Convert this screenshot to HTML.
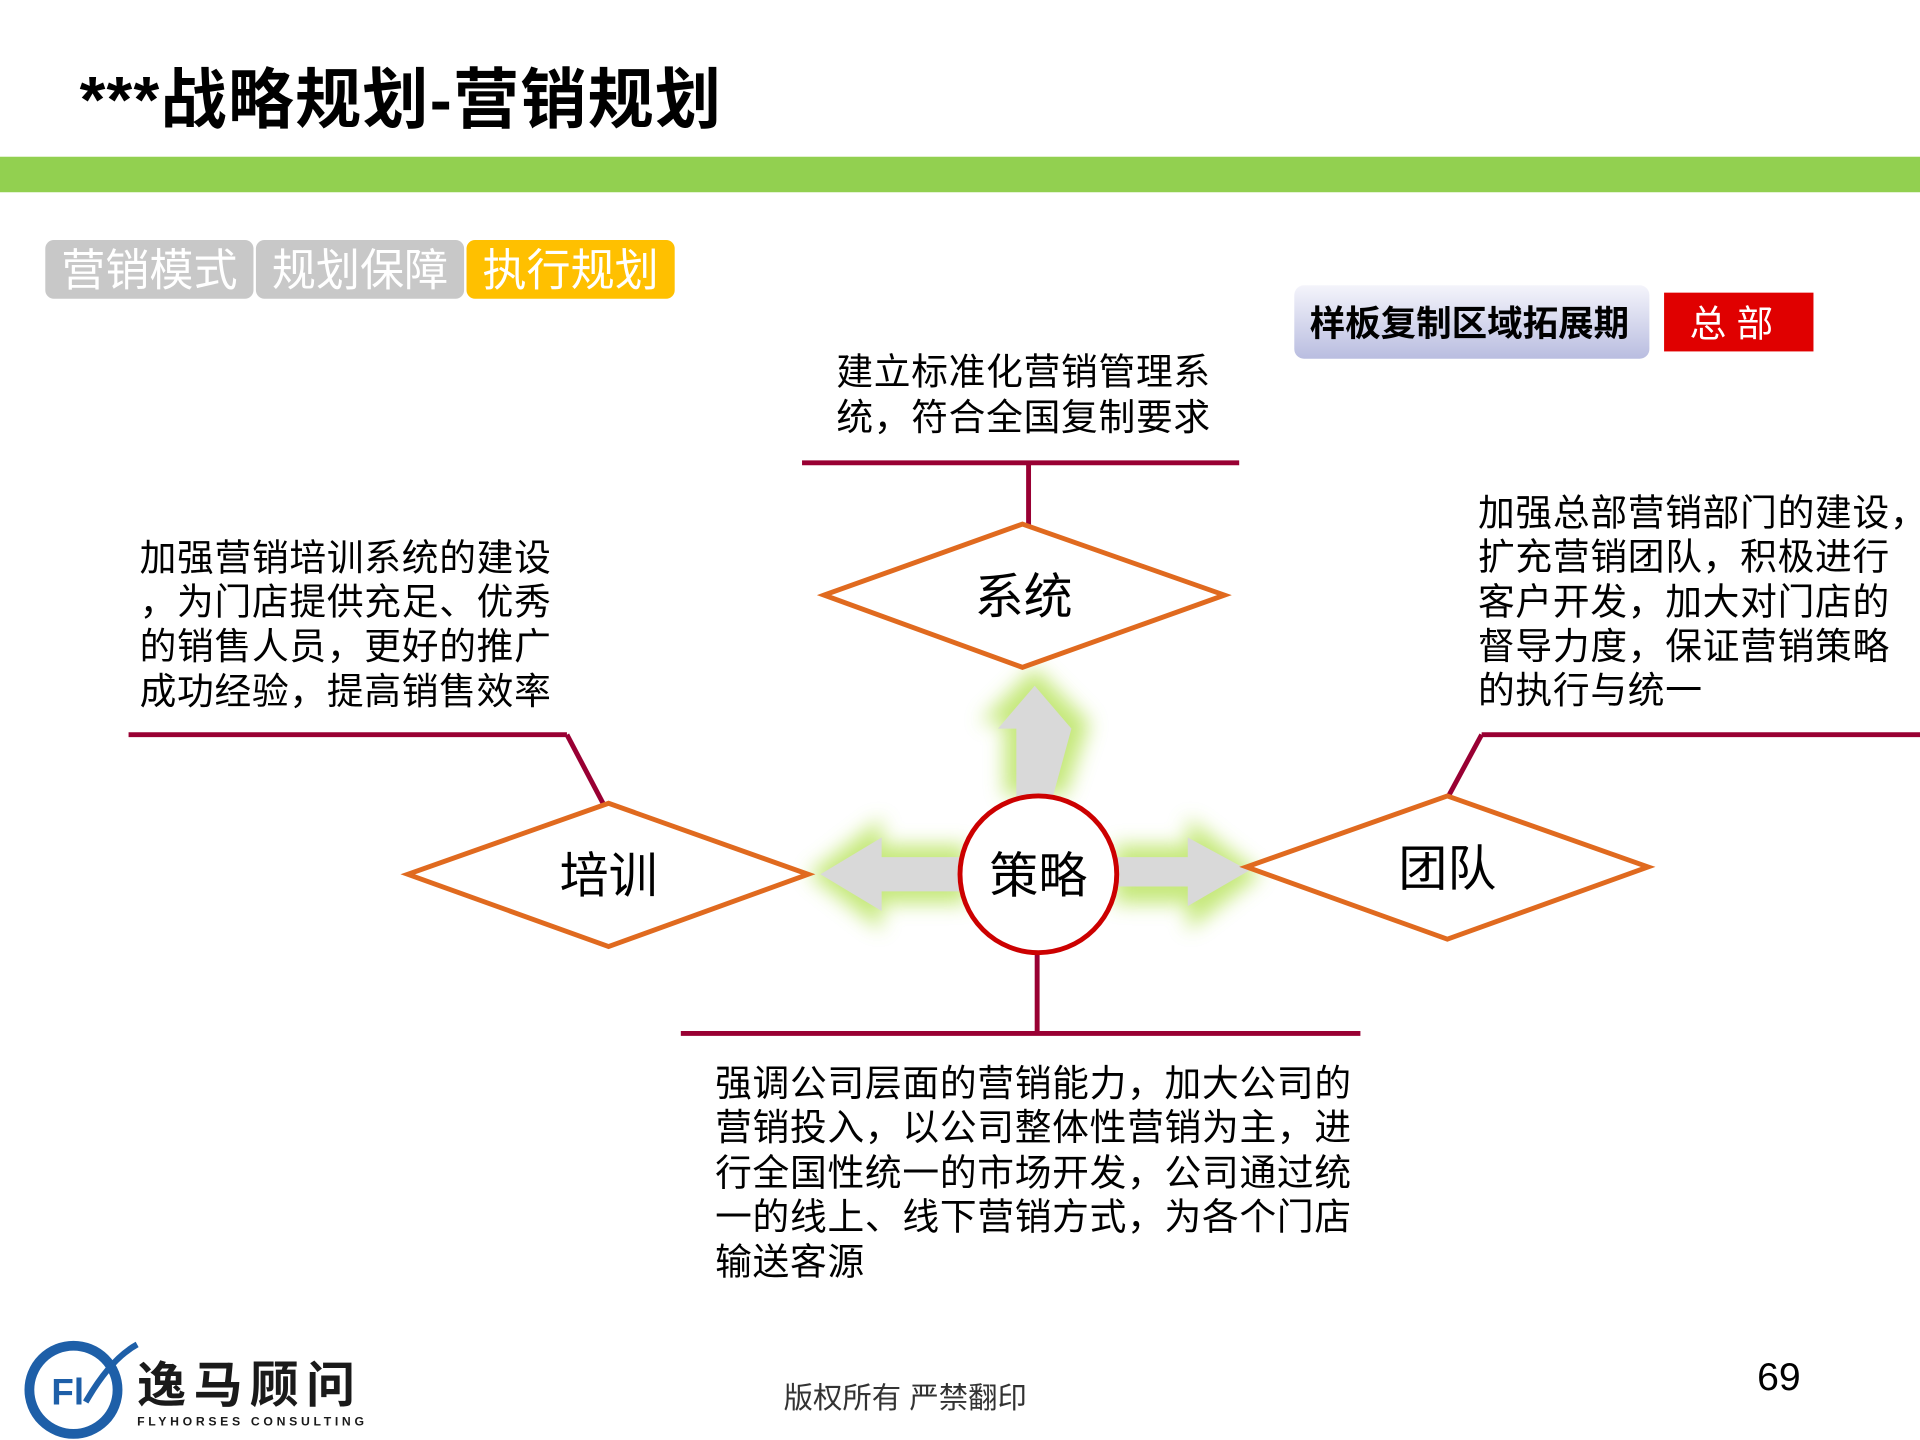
<!DOCTYPE html>
<html><head><meta charset="utf-8">
<style>
html,body{margin:0;padding:0;background:#fff;}
svg{display:block;}
text{font-family:"Liberation Sans","Noto Sans CJK SC",sans-serif;}
</style></head>
<body>
<svg width="1920" height="1440" viewBox="0 0 1568 1176" xmlns="http://www.w3.org/2000/svg">
<defs>
<filter id="glow" x="-50%" y="-50%" width="200%" height="200%"><feGaussianBlur stdDeviation="8"/></filter>
<linearGradient id="lav" x1="0" y1="0" x2="0" y2="1"><stop offset="0" stop-color="#f4f4fb"/><stop offset="1" stop-color="#b9bde0"/></linearGradient>
</defs>
<rect width="1568" height="1176" fill="#fff"/>
<text x="65" y="100" font-size="54" font-weight="bold" fill="#000" letter-spacing="1">***战略规划-营销规划</text>
<rect x="0" y="128" width="1568" height="29" fill="#92d050"/>
<rect x="37" y="196" width="170" height="48" rx="7" fill="#c8c8c8"/>
<text x="122" y="233" font-size="36" fill="#fff" text-anchor="middle">营销模式</text>
<rect x="209" y="196" width="170" height="48" rx="7" fill="#c8c8c8"/>
<text x="294" y="233" font-size="36" fill="#fff" text-anchor="middle">规划保障</text>
<rect x="381" y="196" width="170" height="48" rx="7" fill="#ffc000"/>
<text x="466" y="233" font-size="36" fill="#fff" text-anchor="middle">执行规划</text>
<rect x="1057" y="233" width="290" height="60" rx="8" fill="url(#lav)"/>
<text x="1200" y="274" font-size="29" font-weight="bold" fill="#000" text-anchor="middle">样板复制区域拓展期</text>
<rect x="1359" y="239" width="122" height="48" fill="#e00000"/>
<text x="1414" y="275" font-size="30" fill="#fff" text-anchor="middle">总 部</text>
<g font-size="30" fill="#000" letter-spacing="0.6">
<text x="683" y="314">建立标准化营销管理系</text>
<text x="683" y="351">统，符合全国复制要求</text>
<text x="114" y="466">加强营销培训系统的建设</text>
<text x="114" y="502">，为门店提供充足、优秀</text>
<text x="114" y="538">的销售人员，更好的推广</text>
<text x="114" y="575">成功经验，提高销售效率</text>
<text x="1207" y="429">加强总部营销部门的建设，</text>
<text x="1207" y="465">扩充营销团队，积极进行</text>
<text x="1207" y="502">客户开发，加大对门店的</text>
<text x="1207" y="538">督导力度，保证营销策略</text>
<text x="1207" y="574">的执行与统一</text>
<text x="584" y="895">强调公司层面的营销能力，加大公司的</text>
<text x="584" y="931">营销投入，以公司整体性营销为主，进</text>
<text x="584" y="968">行全国性统一的市场开发，公司通过统</text>
<text x="584" y="1004">一的线上、线下营销方式，为各个门店</text>
<text x="584" y="1041">输送客源</text>
</g>
<g filter="url(#glow)" fill="#b7e35a" opacity="0.8">
<polygon points="820,650 820,590 800,590 845,545 890,590 870,650"/>
<polygon points="790,690 720,690 720,668 660,714 720,760 720,738 790,738"/>
<polygon points="910,690 970,690 970,668 1030,714 970,760 970,738 910,738"/>
</g>
<g fill="#d9d9d9">
<polygon points="830,650 830,595 815,595 845,560 875,595 860,650"/>
<polygon points="785,700 720,700 720,684 670,714 720,744 720,728 785,728"/>
<polygon points="912,700 970,700 970,684 1020,711 970,740 970,724 912,724"/>
</g>
<g stroke="#990033" stroke-width="4" fill="none">
<line x1="655" y1="378" x2="1012" y2="378"/>
<line x1="840" y1="378" x2="840" y2="430"/>
<line x1="105" y1="600" x2="463" y2="600"/>
<line x1="463" y1="600" x2="493" y2="657"/>
<line x1="1210" y1="600" x2="1568" y2="600"/>
<line x1="1210" y1="600" x2="1183" y2="650"/>
<line x1="847" y1="778" x2="847" y2="842"/>
<line x1="556" y1="844" x2="1111" y2="844"/>
</g>
<g stroke="#e06a1f" stroke-width="4" fill="#fff">
<polygon points="673,486 835,428 1000,486 835,545"/>
<polygon points="333,714 497,656 660,714 497,773"/>
<polygon points="1018,708 1182,650 1346,708 1182,767"/>
</g>
<circle cx="848" cy="714" r="64" fill="#fff" stroke="#cc0000" stroke-width="4"/>
<g font-size="40" fill="#000" text-anchor="middle">
<text x="836" y="501">系统</text>
<text x="497" y="729">培训</text>
<text x="848" y="729">策略</text>
<text x="1182" y="723">团队</text>
</g>
<text x="640" y="1150" font-size="24" fill="#333">版权所有  严禁翻印</text>
<text x="1435" y="1135" font-size="32" fill="#000">69</text>
<circle cx="60" cy="1135" r="36" fill="none" stroke="#1e5fa8" stroke-width="8"/>
<text x="42" y="1147" font-size="30" font-weight="bold" fill="#1e5fa8">Fl</text>
<path d="M70,1145 Q90,1110 112,1098" stroke="#1e5fa8" stroke-width="5" fill="none"/>
<text x="112" y="1145" font-size="40" font-weight="bold" fill="#1a1a1a" letter-spacing="6">逸马顾问</text>
<text x="112" y="1164" font-size="10" font-weight="bold" fill="#1a1a1a" letter-spacing="3">FLYHORSES CONSULTING</text>
</svg>
</body></html>
